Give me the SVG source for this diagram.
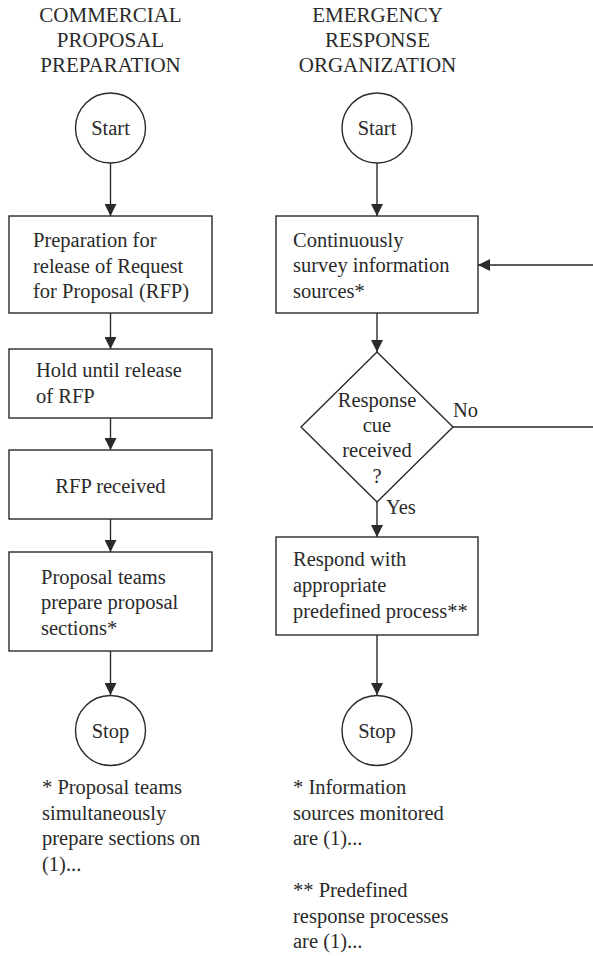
<svg xmlns="http://www.w3.org/2000/svg" width="593" height="956" viewBox="0 0 593 956" font-family="'Liberation Serif', 'DejaVu Serif', serif">
<style>
text{font-family:'Liberation Serif','DejaVu Serif',serif;font-size:20.5px;fill:#2a2a2a}
.h{font-size:21px;text-anchor:middle}
.c{text-anchor:middle}
.n{fill:#fff;stroke:#2a2a2a;stroke-width:1.4}
.e{fill:none;stroke:#2a2a2a;stroke-width:1.4}
</style>
<defs>
<marker id="ah" markerUnits="userSpaceOnUse" markerWidth="12" markerHeight="12" refX="12" refY="6" orient="auto">
<path d="M0,0 L12,6 L0,12 z" fill="#2a2a2a"/>
</marker>
</defs>
<rect width="593" height="956" fill="#fff"/>
<g id="headers">
<text class="h" x="110.5" y="22">COMMERCIAL</text>
<text class="h" x="110.5" y="47">PROPOSAL</text>
<text class="h" x="110.5" y="72">PREPARATION</text>
<text class="h" x="377.5" y="22">EMERGENCY</text>
<text class="h" x="377.5" y="47">RESPONSE</text>
<text class="h" x="377.5" y="72">ORGANIZATION</text>
</g>
<g id="connectors">
<line class="e" x1="110.5" y1="163" x2="110.5" y2="216" marker-end="url(#ah)"/>
<line class="e" x1="110.5" y1="313" x2="110.5" y2="349" marker-end="url(#ah)"/>
<line class="e" x1="110.5" y1="418" x2="110.5" y2="450" marker-end="url(#ah)"/>
<line class="e" x1="110.5" y1="519" x2="110.5" y2="552" marker-end="url(#ah)"/>
<line class="e" x1="110.5" y1="651" x2="110.5" y2="695" marker-end="url(#ah)"/>
<line class="e" x1="377" y1="163" x2="377" y2="216" marker-end="url(#ah)"/>
<line class="e" x1="377" y1="313" x2="377" y2="352" marker-end="url(#ah)"/>
<line class="e" x1="377" y1="502" x2="377" y2="537" marker-end="url(#ah)"/>
<line class="e" x1="377" y1="635" x2="377" y2="695" marker-end="url(#ah)"/>
<path class="e" d="M453,427 H600 V265 H478" marker-end="url(#ah)"/>
<text x="453" y="417">No</text>
<text x="386" y="514">Yes</text>
</g>
<g id="start1">
<circle class="n" cx="110.5" cy="128" r="35"/>
<text class="c" x="110.5" y="135">Start</text>
</g>
<g id="prep">
<rect class="n" x="9" y="216" width="203" height="97"/>
<text x="33" y="247">Preparation for</text>
<text x="33" y="273">release of Request</text>
<text x="33" y="298">for Proposal (RFP)</text>
</g>
<g id="hold">
<rect class="n" x="9" y="349" width="203" height="69"/>
<text x="36" y="377">Hold until release</text>
<text x="36" y="403">of RFP</text>
</g>
<g id="received">
<rect class="n" x="9" y="450" width="203" height="69"/>
<text class="c" x="110.5" y="493">RFP received</text>
</g>
<g id="teams">
<rect class="n" x="9" y="552" width="203" height="99"/>
<text x="41" y="584">Proposal teams</text>
<text x="41" y="609">prepare proposal</text>
<text x="41" y="635">sections*</text>
</g>
<g id="stop1">
<circle class="n" cx="110.5" cy="730.5" r="35"/>
<text class="c" x="110.5" y="738">Stop</text>
</g>
<g id="note1">
<text x="42" y="794">* Proposal teams</text>
<text x="42" y="820">simultaneously</text>
<text x="42" y="845">prepare sections on</text>
<text x="42" y="871">(1)...</text>
</g>
<g id="start2">
<circle class="n" cx="377" cy="128" r="35"/>
<text class="c" x="377" y="135">Start</text>
</g>
<g id="survey">
<rect class="n" x="276" y="216" width="202" height="97"/>
<text x="293" y="247">Continuously</text>
<text x="293" y="272">survey information</text>
<text x="293" y="298">sources*</text>
</g>
<g id="decision">
<path class="n" d="M377,352 L453,427 L377,502 L301,427 Z"/>
<text class="c" x="377" y="407">Response</text>
<text class="c" x="377" y="432">cue</text>
<text class="c" x="377" y="457">received</text>
<text class="c" x="377" y="483">?</text>
</g>
<g id="respond">
<rect class="n" x="276" y="537" width="202" height="98"/>
<text x="293" y="566">Respond with</text>
<text x="293" y="592">appropriate</text>
<text x="293" y="618">predefined process**</text>
</g>
<g id="stop2">
<circle class="n" cx="377" cy="730.5" r="35"/>
<text class="c" x="377" y="738">Stop</text>
</g>
<g id="note2">
<text x="293" y="794">* Information</text>
<text x="293" y="820">sources monitored</text>
<text x="293" y="845">are (1)...</text>
<text x="293" y="897">** Predefined</text>
<text x="293" y="923">response processes</text>
<text x="293" y="948">are (1)...</text>
</g>
</svg>
